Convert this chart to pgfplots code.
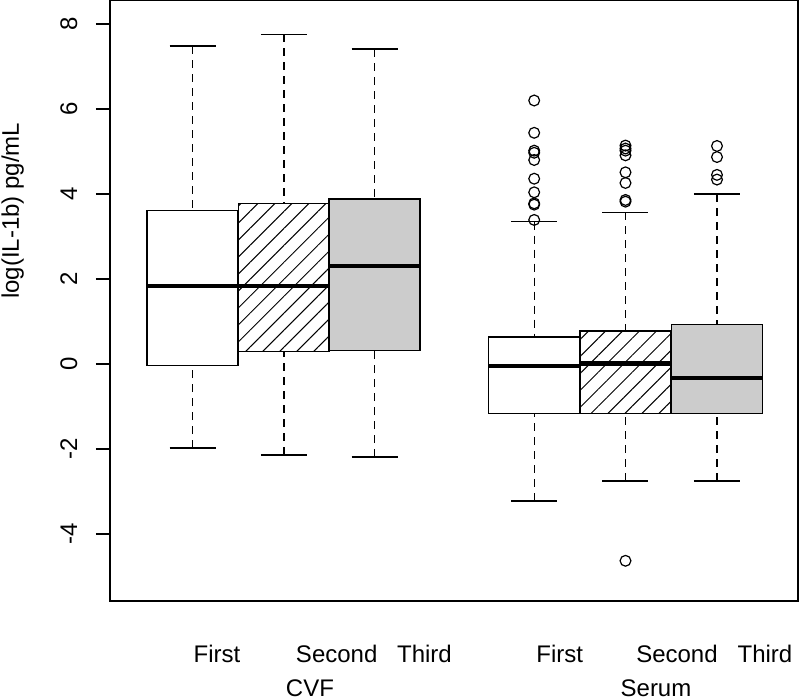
\documentclass[border=0pt]{standalone}
\usepackage{fontspec}
\setmainfont{Liberation Sans}
\usepackage{pgfplots}
\pgfplotsset{compat=1.18}
\usepgfplotslibrary{statistics}
\usetikzlibrary{patterns.meta}
\begin{document}
\begin{tikzpicture}
\begin{axis}[
  name=ax,
  scale only axis,
  width=344pt, height=300.5pt,
  xmin=110, xmax=798,
  ymin=-5.576, ymax=8.565,
  clip=false,
  font=\fontsize{12}{14}\selectfont,
  /pgf/number format/assume math mode=true,
  axis line style={line width=0.8pt},
  xtick={217,336.7,424.5,559.7,677,765},
  xticklabels={First,Second,Third,First,Second,Third},
  xtick align=inside,
  xtick style={draw=none},
  xticklabel style={anchor=base, inner sep=0pt},
  xticklabel shift=30.5pt,
  ytick={-4,-2,0,2,4,6,8},
  ytick pos=left,
  ytick align=outside,
  major tick length=7pt,
  ytick style={line width=0.7pt, black},
  yticklabel style={rotate=90, anchor=base, inner sep=0pt},
  yticklabel shift=9.4pt,
  ylabel={log(IL-1b) pg/mL},
  ylabel style={at={(axis description cs:-0.1323,0.649)}, anchor=base, rotate=0},
  boxplot/draw direction=y,
  boxplot/box extend=91,
  boxplot/whisker extend=46,
  boxplot/every box/.style={line width=0.7pt},
  boxplot/every median/.style={line width=2.2pt},
  boxplot/draw/lower whisker/.code={%
    \draw[dash pattern=on 4pt off 3pt, line width=0.6pt]
      (boxplot box cs:\pgfplotsboxplotvalue{lower whisker},0.5) --
      (boxplot box cs:\pgfplotsboxplotvalue{lower quartile},0.5);
    \draw[line width=0.7pt]
      (boxplot whisker cs:\pgfplotsboxplotvalue{lower whisker},0) --
      (boxplot whisker cs:\pgfplotsboxplotvalue{lower whisker},1);
  },
  boxplot/draw/upper whisker/.code={%
    \draw[dash pattern=on 4pt off 3pt, line width=0.6pt]
      (boxplot box cs:\pgfplotsboxplotvalue{upper whisker},0.5) --
      (boxplot box cs:\pgfplotsboxplotvalue{upper quartile},0.5);
    \draw[line width=0.7pt]
      (boxplot whisker cs:\pgfplotsboxplotvalue{upper whisker},0) --
      (boxplot whisker cs:\pgfplotsboxplotvalue{upper whisker},1);
  },
]
% CVF First
\addplot[black, mark=o, mark size=2.7pt, mark options={line width=0.6pt},
  boxplot prepared={draw position=192.7, lower whisker=-1.98, lower quartile=-0.04,
    median=1.84, upper quartile=3.61, upper whisker=7.48},
  boxplot/every box/.append style={fill=white}] coordinates {};
% CVF Second
\addplot[black, mark=o, mark size=2.7pt, mark options={line width=0.6pt},
  boxplot prepared={draw position=284, lower whisker=-2.14, lower quartile=0.29,
    median=1.84, upper quartile=3.78, upper whisker=7.76},
  boxplot/every box/.append style={pattern={Lines[angle=45,distance=6pt,line width=0.5pt]}}] coordinates {};
% CVF Third
\addplot[black, mark=o, mark size=2.7pt, mark options={line width=0.6pt},
  boxplot prepared={draw position=374.7, lower whisker=-2.19, lower quartile=0.32,
    median=2.31, upper quartile=3.88, upper whisker=7.41},
  boxplot/every box/.append style={fill=black!20}] coordinates {};
% Serum First
\addplot[black, mark=o, mark size=2.7pt, mark options={line width=0.6pt},
  boxplot prepared={draw position=534.2, lower whisker=-3.22, lower quartile=-1.16,
    median=-0.04, upper quartile=0.64, upper whisker=3.35},
  boxplot/every box/.append style={fill=white}]
  table[row sep=\\, y index=0] {data\\ 6.20\\ 5.44\\ 5.02\\ 4.97\\ 4.80\\ 4.36\\ 4.04\\ 3.78\\ 3.75\\ 3.39\\};
% Serum Second
\addplot[black, mark=o, mark size=2.7pt, mark options={line width=0.6pt},
  boxplot prepared={draw position=625.5, lower whisker=-2.75, lower quartile=-1.16,
    median=0.01, upper quartile=0.78, upper whisker=3.57},
  boxplot/every box/.append style={pattern={Lines[angle=45,distance=6pt,line width=0.5pt]}}]
  table[row sep=\\, y index=0] {data\\ 5.14\\ 5.07\\ 5.02\\ 4.91\\ 4.51\\ 4.26\\ 3.86\\ 3.82\\ -4.63\\};
% Serum Third
\addplot[black, mark=o, mark size=2.7pt, mark options={line width=0.6pt},
  boxplot prepared={draw position=717, lower whisker=-2.75, lower quartile=-1.16,
    median=-0.33, upper quartile=0.93, upper whisker=4.00},
  boxplot/every box/.append style={fill=black!20}]
  table[row sep=\\, y index=0] {data\\ 5.13\\ 4.87\\ 4.45\\ 4.34\\};
\node[anchor=base, inner sep=0pt, font=\fontsize{12}{14}\selectfont] at ([yshift=-47.5pt]axis cs:310,-5.576) {CVF};
\node[anchor=base, inner sep=0pt, font=\fontsize{12}{14}\selectfont] at ([yshift=-47.5pt]axis cs:656,-5.576) {Serum};
\end{axis}
\pgfresetboundingbox
\path ([xshift=-55pt,yshift=-49pt]ax.south west) rectangle ([xshift=1pt]ax.north east);
\end{tikzpicture}
\end{document}
